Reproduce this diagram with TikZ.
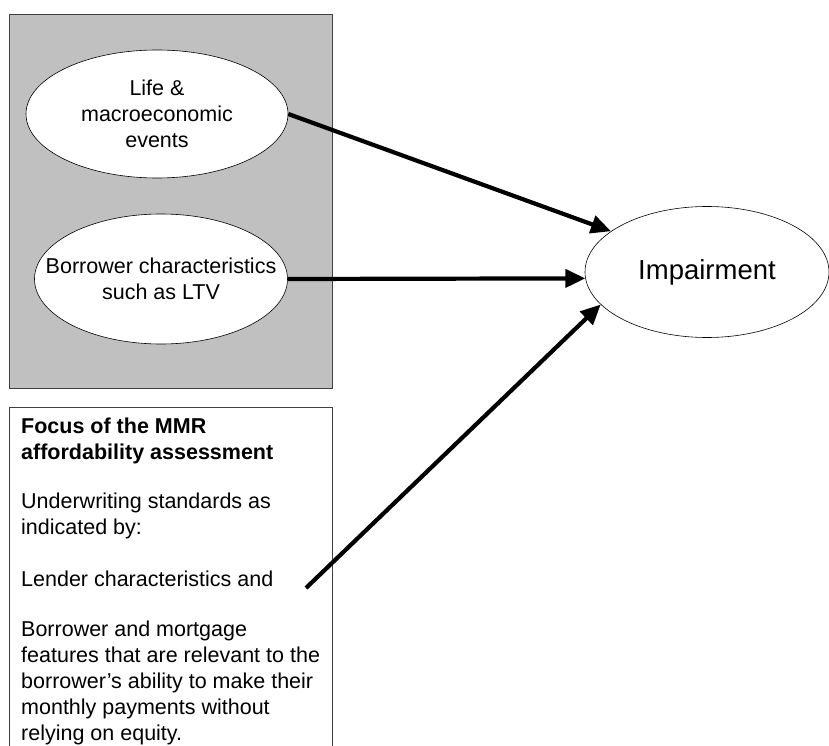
\documentclass[tikz,border=0pt]{standalone}
\usepackage{fontspec}
\setmainfont{Liberation Sans}
\usetikzlibrary{arrows.meta,shapes.geometric,positioning}
\definecolor{panelgrey}{HTML}{C0C0C0}
\definecolor{frameline}{HTML}{404040}
\newcommand{\bodyfont}{\fontsize{21.5}{26}\selectfont}
\tikzset{
  panel/.style={draw=frameline,line width=0.8pt},
  event/.style={ellipse,draw=black,fill=white,line width=0.6pt,inner sep=0pt},
  evtext/.style={align=center,inner sep=0pt,font=\bodyfont},
  causal/.style={-{Triangle[length=20pt,width=18pt]},line width=4.2pt}
}
\begin{document}
\begin{tikzpicture}[x=1pt,y=-1pt]
\useasboundingbox (0,0) rectangle (829,746);
\clip (0,0) rectangle (829,746);
% grey panel with the two drivers
\draw[panel,fill=panelgrey] (9,14) rectangle (332,388);
\node[event,minimum width=262pt,minimum height=128pt] (life) at (157,114) {};
\node[evtext] at (life) {Life \&\\macroeconomic\\events};
\node[event,minimum width=253pt,minimum height=130pt] (borrower) at (161,279) {};
\node[evtext] at (borrower) {Borrower characteristics\\such as LTV};
% outcome
\node[event,minimum width=244pt,minimum height=131pt] (impair) at (707,272) {};
\node[evtext,font=\fontsize{27.5}{30}\selectfont] at (impair) {Impairment};
% focus box (runs off the bottom)
\draw[panel] (9,760) -- (9,407) -- (332,407) -- (332,760);
\node[anchor=north west,align=left,inner sep=0pt,font=\bodyfont] (focus) at (21,418)
  {\textbf{Focus of the MMR}\\\textbf{affordability assessment}\\[23pt]
   Underwriting standards as\\indicated by:\\[26pt]
   Lender characteristics and\\[24pt]
   Borrower and mortgage\\features that are relevant to the\\borrower’s ability to make their\\monthly payments without\\relying on equity.};
\coordinate (lend) at (306,588);
% arrows
\draw[causal] (life.east) -- (impair.157);
\draw[causal] (borrower.east) -- (impair.183);
\draw[causal] (lend) -- (impair.197);
\end{tikzpicture}
\end{document}
